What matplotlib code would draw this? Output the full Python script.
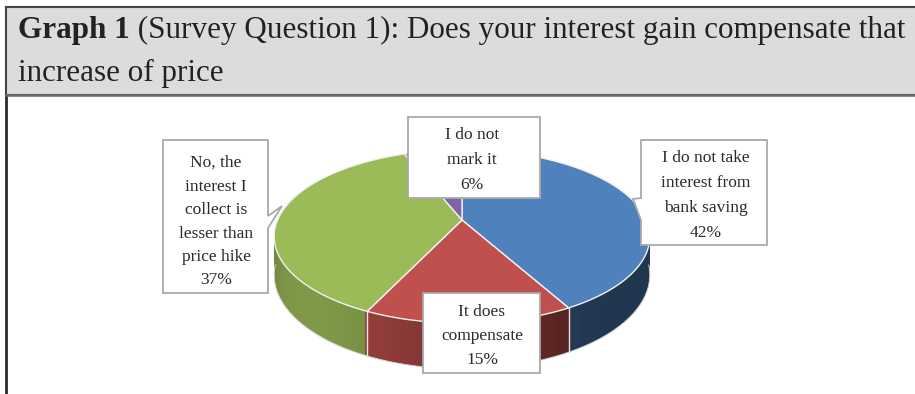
import numpy as np
import matplotlib

matplotlib.use("Agg")
import matplotlib.pyplot as plt
from matplotlib.patches import Polygon, Rectangle
from matplotlib.colors import to_rgb

# Survey answers, in the order the slices run clockwise from 12 o'clock
answers = [
    ["I do not take", "interest from", "bank saving"],
    ["It does", "compensate"],
    ["No, the", "interest I", "collect is", "lesser than", "price hike"],
    ["I do not", "mark it"],
]
shares = [42, 15, 37, 6]
colors = ["#4f81bd", "#c0504d", "#9bbb59", "#8064a2"]

title_bold = "Graph 1"
title_rest = " (Survey Question 1): Does your interest gain compensate that"
title_line2 = "increase of price"

W, H = 915, 394
SERIF = ["Liberation Serif", "DejaVu Serif"]

fig = plt.figure(figsize=(W / 100, H / 100), dpi=100)
ax = fig.add_axes([0, 0, 1, 1])
ax.set_xlim(0, W)
ax.set_ylim(H, 0)
ax.axis("off")

# ---- header band -------------------------------------------------------
ax.add_patch(Rectangle((6, 7), W + 10, 88, facecolor="#dcdcdc",
                       edgecolor="#444444", lw=1.5, zorder=1))
ax.plot([6, 6], [95, H + 2], color="#2a2a2a", lw=2, zorder=1,
        solid_capstyle="butt")
ax.plot([6, W + 2], [95, 95], color="#6a6a6a", lw=1.8, zorder=2)

renderer = fig.canvas.get_renderer()


def title_width(size):
    a = ax.text(0, 0, title_bold, fontsize=size, weight="bold", family=SERIF)
    b = ax.text(0, 0, title_rest, fontsize=size, family=SERIF)
    w = a.get_window_extent(renderer).width + b.get_window_extent(renderer).width
    a.remove()
    b.remove()
    return w


# scale the heading so the first line runs across the band
fs = 20 * 887 / title_width(20)
t1 = ax.text(18, 38, title_bold, fontsize=fs, weight="bold", family=SERIF,
             color="#222222", va="baseline", zorder=3)
x_after = t1.get_window_extent(renderer).x1
ax.text(x_after, 38, title_rest, fontsize=fs, family=SERIF, color="#222222",
        va="baseline", zorder=3)
ax.text(18, 81, title_line2, fontsize=fs, family=SERIF, color="#222222",
        va="baseline", zorder=3)

# ---- 3D pie with a little perspective ---------------------------------
CX, CY = 462, 220        # where the slices meet
S, K, P = 184.4, 83.6, 0.19
DEPTH = 37


def rim(phi, drop=0.0):
    x, y = np.sin(phi), np.cos(phi)
    w = 1 + P * y
    return CX + S * x / w, CY - K * y / w + drop / w


def shade(rgb, phi):
    f = 0.42 + 0.4 * max(0.0, np.cos(phi - np.radians(225))) ** 2
    return tuple(c * f for c in rgb)


bounds = np.concatenate([[0], np.cumsum(shares)]) / sum(shares) * 2 * np.pi

# side wall as thin strips, back to front, each overlapping the next a touch
segs = []
for i, col in enumerate(colors):
    a0, a1 = bounds[i], bounds[i + 1]
    n = max(2, int(np.degrees(a1 - a0)))
    edges = np.linspace(a0, a1, n + 1)
    for s0, s1 in zip(edges[:-1], edges[1:]):
        mid = 0.5 * (s0 + s1)
        if np.cos(mid) > 0.35:
            continue
        segs.append((np.cos(mid), s0, s1, to_rgb(col)))
segs.sort(key=lambda s: -s[0])
pad = np.radians(0.6)
for _, s0, s1, rgb in segs:
    lo, hi = s0 - pad, s1 + pad
    tx, ty = rim(np.array([lo, hi]))
    bx, by = rim(np.array([hi, lo]), DEPTH)
    c = shade(rgb, 0.5 * (s0 + s1))
    ax.add_patch(Polygon(np.column_stack([np.r_[tx, bx], np.r_[ty, by]]),
                         closed=True, facecolor=c, edgecolor="none",
                         zorder=4))

# light seams where slices meet on the visible wall
for b in bounds[1:-1]:
    if np.cos(b) < -0.1:
        x0, y0 = rim(b)
        x1, y1 = rim(b, DEPTH)
        ax.plot([x0, x1], [y0, y1], color="#e8e8e8", lw=1, zorder=5)

# bottom outline of the wall
phis = np.linspace(np.radians(95), np.radians(265), 200)
bx, by = rim(phis, DEPTH)
ax.plot(bx, by, color="#dcdcdc", lw=0.7, zorder=5)

# top faces
for i, col in enumerate(colors):
    phis = np.linspace(bounds[i], bounds[i + 1], 120)
    x, y = rim(phis)
    pts = np.column_stack([np.r_[CX, x], np.r_[CY, y]])
    ax.add_patch(Polygon(pts, closed=True, facecolor=col, edgecolor="#f2f2f2",
                         lw=1.0, zorder=6))

# ---- data labels ---------------------------------------------------------
label_boxes = [
    (641, 140, 767, 245),
    (423, 293, 540, 373),
    (163, 140, 268, 293),
    (408, 117, 540, 198),
]
label_text_x = [706, 482, 216, 472]
label_first_y = [158, 312, 163, 135]
label_step = [25, 24, 23.5, 25]
# (edge, notch start, notch end, tip x, tip y)
pointers = [
    ("left", 198, 220, 633, 199),
    None,
    ("right", 216, 228, 282, 206),
    None,
]


def callout(box, ptr):
    x0, y0, x1, y1 = box
    if ptr is None:
        return [(x0, y0), (x1, y0), (x1, y1), (x0, y1)]
    side, n0, n1, tx, ty = ptr
    if side == "right":
        return [(x0, y0), (x1, y0), (x1, n0), (tx, ty), (x1, n1), (x1, y1),
                (x0, y1)]
    return [(x0, y0), (x1, y0), (x1, y1), (x0, y1), (x0, n1), (tx, ty),
            (x0, n0)]


for i, lines in enumerate(answers):
    ax.add_patch(Polygon(callout(label_boxes[i], pointers[i]), closed=True,
                         facecolor="white", edgecolor="#a9a9a9", lw=1.3,
                         zorder=8))
    rows = lines + [f"{shares[i]}%"]
    for j, row in enumerate(rows):
        ax.text(label_text_x[i], label_first_y[i] + j * label_step[i], row,
                ha="center", va="center", fontsize=12.5, family=SERIF,
                color="#2b2b2b", zorder=9)

fig.savefig("out.png", dpi=100)
